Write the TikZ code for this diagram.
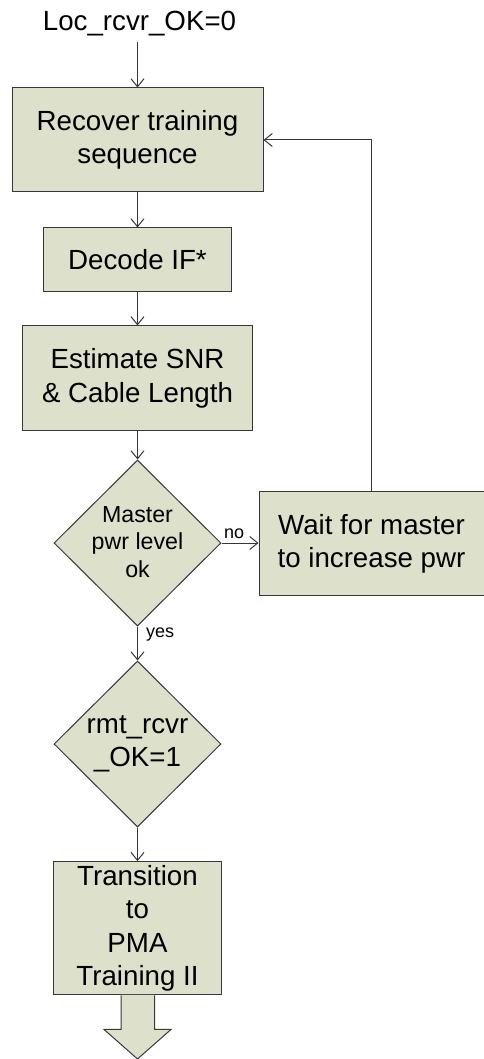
\documentclass[tikz,border=0pt]{standalone}
\usepackage{fontspec}
\setmainfont{Liberation Sans}
\usetikzlibrary{shapes.geometric,arrows.meta}
\definecolor{boxfill}{RGB}{221,225,204}
\definecolor{edge}{RGB}{55,55,55}

\begin{document}
\begin{tikzpicture}[x=1pt,y=-1pt,
  proc/.style={draw=edge,fill=boxfill,line width=1pt,inner sep=0pt,align=center,
    font=\fontsize{27.7}{33.2}\selectfont},
  decision/.style={diamond,draw=edge,fill=boxfill,line width=1pt,inner sep=0pt,
    minimum width=167pt,minimum height=166pt},
  dtext/.style={inner sep=0pt,align=center},
  flow/.style={draw=edge,line width=1pt,-{Straight Barb[length=8pt,width=13pt]}},
  lbl/.style={font=\fontsize{18}{20}\selectfont,inner sep=0pt}]

\useasboundingbox (0,0) rectangle (484,1059);

% entry condition
\node[inner sep=0pt,anchor=base,font=\fontsize{27.7}{33.2}\selectfont] (start) at (139.5,31) {Loc\_rcvr\_OK=0};
\coordinate (entry) at (137.5,42);

% process column
\node[proc,minimum width=251pt,minimum height=104pt] (rec) at (137.5,140) {Recover training\\sequence};
\node[proc,minimum width=188pt,minimum height=63pt] (dec) at (137.5,259.5) {Decode IF*};
\node[proc,minimum width=230pt,minimum height=104.7pt] (est) at (137.5,378.3) {Estimate SNR\\\& Cable Length};

\node[decision] (pwr) at (137.5,543) {};
\node[dtext,font=\fontsize{23.2}{27.5}\selectfont] (pwrt) at (137.5,542) {Master\\pwr level\\ok};

\node[proc,minimum width=225pt,minimum height=104pt] (wait) at (371.5,543.6) {Wait for master\\to increase pwr};

\node[decision] (rmt) at (137.5,744) {};
\node[dtext,font=\fontsize{27.7}{33}\selectfont] (rmtt) at (137.5,744) {rmt\_rcvr\\\_OK=1};

\node[proc,minimum width=167.7pt,minimum height=133.3pt] (trans) at (137.5,928.3) {Transition\\to\\PMA\\Training II};

% connectors
\draw[flow] (entry) -- (rec.north);
\draw[flow] (rec.south) -- (dec.north);
\draw[flow] (dec.south) -- (est.north);
\draw[flow] (est.south) -- (pwr.north);
\draw[flow] (pwr.east) -- (pwr.east -| wait.west);
\draw[flow] (wait.north) -- (wait.north |- rec.east) -- (rec.east);
\draw[flow] (pwr.south) -- (rmt.north);
\draw[flow] (rmt.south) -- (trans.north);

\node[lbl,anchor=base west] (no) at (224,538) {no};
\node[lbl,anchor=base west] (yes) at (146,637) {yes};

% exit block arrow
\begin{scope}[shift={(trans.south)}]
  \fill[boxfill] (-16.5,-0.6) -- (-16.5,34) -- (-33.5,34) -- (0,63.5) -- (33.5,34) -- (17.2,34) -- (17.2,-0.6) -- cycle;
  \draw[edge,line width=1pt] (-16.5,0) -- (-16.5,34) -- (-33.5,34) -- (0,63.5) -- (33.5,34) -- (17.2,34) -- (17.2,0);
\end{scope}

\end{tikzpicture}
\end{document}
